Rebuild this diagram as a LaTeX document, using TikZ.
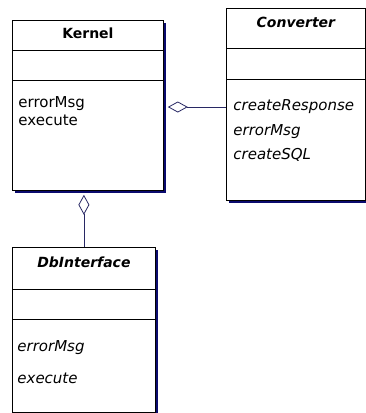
\documentclass[tikz,border=0pt]{standalone}
\usepackage{fontspec}
\setmainfont{DejaVu Sans}
\usetikzlibrary{shadows,arrows.meta}
\definecolor{shadownavy}{RGB}{10,10,110}
\definecolor{linknavy}{RGB}{40,40,100}

\begin{document}
\begin{tikzpicture}[
    x=1pt, y=-1pt,
    line width=0.8pt,
    classbox/.style={draw, fill=white, anchor=north west, inner sep=0pt,
      drop shadow={shadow xshift=3pt, shadow yshift=-3pt, fill=shadownavy, opacity=1}},
    title/.style={inner sep=0pt, font=\fontsize{14}{16}\selectfont\bfseries},
    member/.style={anchor=west, inner sep=0pt, font=\fontsize{15}{17}\selectfont},
    agg/.style={draw=linknavy, line width=0.7pt,
      {Diamond[open, length=20pt, width=11pt, line width=0.8pt]}-}
]
  \useasboundingbox (0,0) rectangle (366,413);

  % classes
  \node[classbox, minimum width=151pt, minimum height=170pt] (kernel) at (12,20) {};
  \node[classbox, minimum width=139pt, minimum height=192pt] (converter) at (226,8) {};
  \node[classbox, minimum width=143pt, minimum height=165pt] (dbiface) at (12,247) {};

  % compartments
  \draw (kernel.west |- 0,50) -- (kernel.east |- 0,50);
  \draw (kernel.west |- 0,80) -- (kernel.east |- 0,80);
  \draw (converter.west |- 0,48) -- (converter.east |- 0,48);
  \draw (converter.west |- 0,79) -- (converter.east |- 0,79);
  \draw (dbiface.west |- 0,289) -- (dbiface.east |- 0,289);
  \draw (dbiface.west |- 0,319) -- (dbiface.east |- 0,319);

  % titles
  \node[title] (kernelT) at (kernel.north |- 0,33) {Kernel};
  \node[title] (converterT) at (converter.north |- 0,22) {\itshape Converter};
  \node[title] (dbifaceT) at (dbiface.north |- 0,262) {\itshape DbInterface};

  % members
  \node[member] (kErr) at (18,104) {errorMsg};
  \node[member] (kExec) at (18,120) {execute};
  \node[member] (cResp) at (233,107) {\itshape createResponse};
  \node[member] (cErr) at (233,132) {\itshape errorMsg};
  \node[member] (cSQL) at (233,155) {\itshape createSQL};
  \node[member] (dErr) at (17,348) {\itshape errorMsg};
  \node[member] (dExec) at (17,378) {\itshape execute};

  % links
  \coordinate (kRight) at ([xshift=4pt]kernel.east);
  \coordinate (kBottom) at ([yshift=-4pt]kernel.south);
  \draw[agg] (kRight |- cResp) -- (converter.west |- cResp);
  \draw[agg] (dbiface.north |- kBottom) -- (dbiface.north);
\end{tikzpicture}
\end{document}
